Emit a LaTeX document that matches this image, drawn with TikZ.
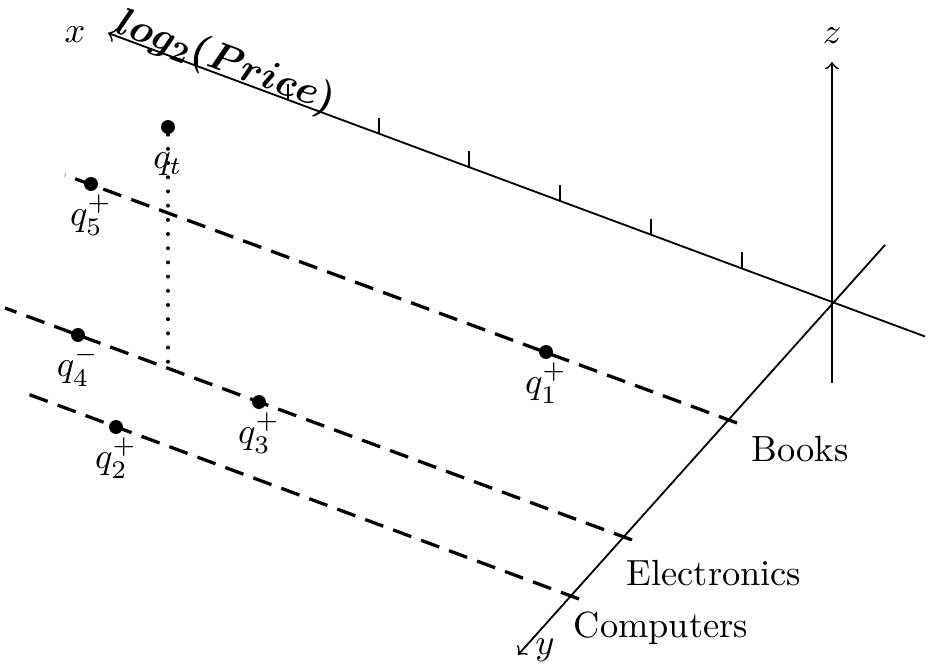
\documentclass[tikz,border=0pt]{standalone}
\usepackage{amsmath}
\usetikzlibrary{positioning}
\begin{document}
\begin{tikzpicture}[x=0.966cm, y=-0.966cm,
      ax/.style={->, line width=0.5pt},
      cat/.style={line width=0.9pt, dash pattern=on 5.3pt off 2.9pt},
      proj/.style={line width=1.1pt, line cap=round, dash pattern=on 0pt off 3.9pt},
      pt/.style={circle, fill, inner sep=0pt, minimum size=1.35mm, label distance=1.4pt},
      lbl/.style={inner sep=0.5pt}]
    \useasboundingbox (0,0) rectangle (9.30,6.70);
    % axes
    \coordinate (O) at (8.32,3.02);
    \coordinate (xa) at (9.25,3.365); \coordinate (xb) at (1.08,0.33);
    \coordinate (za) at (8.32,3.83); \coordinate (zb) at (8.32,0.62);
    \coordinate (ya) at (8.85,2.45); \coordinate (yb) at (5.18,6.55);
    \draw[ax] (xa) -- (xb);
    \draw[ax] (za) -- (zb);
    \draw[ax] (ya) -- (yb);
    \node (xl) at (0.75,0.35) {$x$};
    \node (zl) at (8.32,0.36) {$z$};
    \node (yl) at (5.45,6.50) {$y$};
    \foreach \i in {0,...,6}
      \draw[line width=0.5pt] ({1.97+0.908*\i},{3.02-0.3715*(6.35-0.908*\i)}) -- ++(0,-0.16);
    \node[rotate=-20.4, font=\fontsize{11}{13}\selectfont] (xt) at (2.26,0.63) {$\boldsymbol{log_2(Price)}$};
    % categories
    \coordinate (b1) at (0.65,1.75); \coordinate (b2) at (7.37,4.23);
    \coordinate (e1) at (0.05,3.08); \coordinate (e2) at (6.32,5.40);
    \coordinate (c1) at (0.25,3.93); \coordinate (c2) at (5.79,5.99);
    \draw[cat] (b2) -- (b1);
    \draw[cat] (e2) -- (e1);
    \draw[cat] (c2) -- (c1);
    \node (bk) at (8.00,4.49) {Books};
    \node (el) at (7.14,5.73) {Electronics};
    \node (cp) at (6.61,6.28) {Computers};
    % queries
    \node[pt, label={[lbl]below:$\vphantom{q_5^+}q_t$}] (qt) at (1.68,1.27) {};
    \node[pt, label={[lbl]below:$q_5^+$}] (q5) at (0.91,1.84) {};
    \node[pt, label={[lbl]below:$q_4^-$}] (q4) at (0.78,3.35) {};
    \node[pt, label={[lbl]below:$q_1^+$}] (q1) at (5.46,3.52) {};
    \node[pt, label={[lbl]below:$q_3^+$}] (q3) at (2.59,4.02) {};
    \node[pt, label={[lbl]below:$q_2^+$}] (q2) at (1.16,4.27) {};
    \coordinate (qf) at (1.68,3.66);
    \draw[proj] (qt) -- (qf);
\end{tikzpicture}
\end{document}
